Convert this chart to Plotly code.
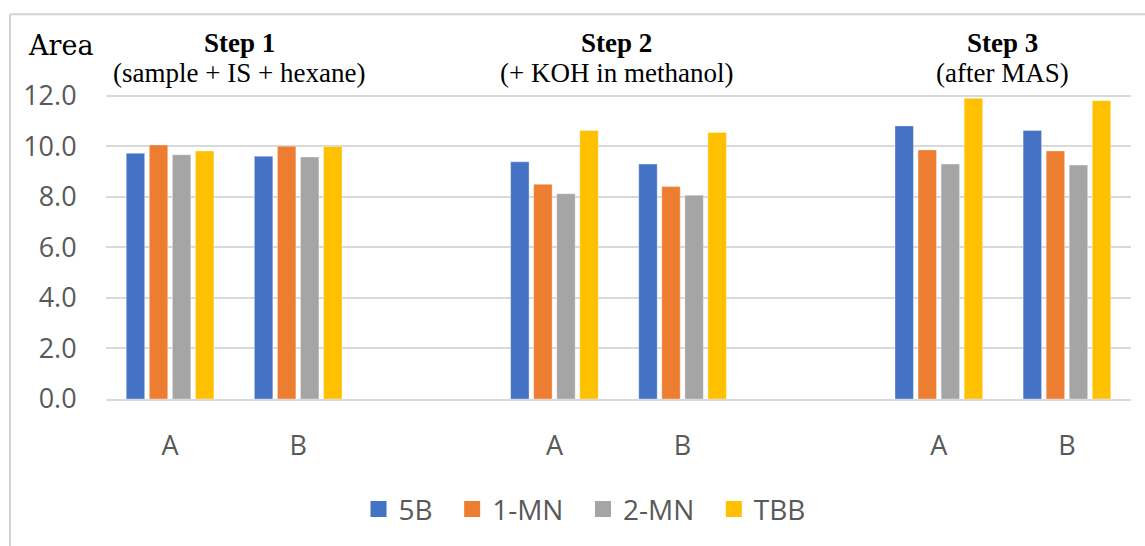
import plotly.graph_objects as go

# ---- data ----
steps = ["Step 1", "Step 2", "Step 3"]
step_notes = ["(sample + IS + hexane)", "(+ KOH in methanol)", "(after MAS)"]
samples = ["A", "B"]
series = ["5B", "1-MN", "2-MN", "TBB"]
colors = ["#4472C4", "#ED7D31", "#A5A5A5", "#FFC000"]
# values ordered: Step1 A, Step1 B, Step2 A, Step2 B, Step3 A, Step3 B
v_5B = [9.72, 9.60, 9.38, 9.29, 10.80, 10.62]
v_1MN = [10.05, 10.00, 8.49, 8.40, 9.85, 9.81]
v_2MN = [9.66, 9.57, 8.12, 8.06, 9.29, 9.25]
v_TBB = [9.81, 9.99, 10.62, 10.54, 11.89, 11.80]
values = [v_5B, v_1MN, v_2MN, v_TBB]
y_ticks = [0, 2, 4, 6, 8, 10, 12, 14]

W, H = 1145, 546
L, R, T, B = 106, 14, 45, 145
pw, ph = W - L - R, H - T - B


def px(x):
    return (x - L) / pw


def py(y):
    return (H - B - y) / ph


# slot positions: each step takes 3 slots (A, B, gap)
xpos = [si * 3 + k for si in range(len(steps)) for k in range(len(samples))]
xlabels = [s for _ in steps for s in samples]

fig = go.Figure()
for name, vals, col in zip(series, values, colors):
    fig.add_trace(go.Bar(
        x=xpos, y=vals, name=name, marker_color=col,
        marker_line=dict(color="rgba(255,255,255,0.35)", width=1),
        showlegend=False,
    ))
for name, col in zip(series, colors):
    fig.add_trace(go.Scatter(
        x=[None], y=[None], mode="markers", name=name + "\u00a0\u00a0",
        marker=dict(symbol="square", size=19, color=col),
    ))

tick_font = dict(family="Open Sans", size=27, color="#595959")
leg_font = dict(family="Open Sans", size=28, color="#595959")
fig.update_layout(
    width=W, height=H,
    margin=dict(l=L, r=R, t=T, b=B),
    paper_bgcolor="white", plot_bgcolor="white",
    barmode="group", bargap=0.28, bargroupgap=0.2,
    legend=dict(orientation="h", x=px(592), xanchor="center",
                y=py(512), yanchor="middle",
                font=leg_font, itemsizing="trace"),
    xaxis=dict(range=[-0.5, 7.5], tickvals=xpos, ticktext=xlabels,
               tickfont=tick_font, showgrid=False, zeroline=False,
               showline=True, linecolor="#d9d9d9", linewidth=1.5,
               ticks="outside", ticklen=22, tickcolor="rgba(0,0,0,0)"),
    yaxis=dict(range=[0, 14], tickvals=y_ticks,
               ticktext=["%.1f" % v if v < 14 else "" for v in y_ticks],
               tickfont=tick_font, showgrid=True, gridcolor="#d9d9d9",
               gridwidth=1.5, zeroline=False,
               ticks="outside", ticklen=23, tickcolor="rgba(0,0,0,0)"),
)

# white boxes behind titles (cover gridlines, under bars)
def box(x0, x1, y0, y1):
    fig.add_shape(type="rect", xref="paper", yref="paper",
                  x0=px(x0), x1=px(x1), y0=py(y1), y1=py(y0),
                  fillcolor="white", line_width=0, layer="between")

box(100, 383, 30, 70)
box(100, 373, 70, 99)
box(472, 758, 30, 70)
box(495, 735, 70, 99)
box(897, 1097, 30, 70)
box(897, 1082, 70, 98)

# outer frame
fig.add_shape(type="line", xref="paper", yref="paper", x0=px(10), x1=px(10),
              y0=py(14), y1=py(560), line=dict(color="#d4d4d4", width=2))
fig.add_shape(type="line", xref="paper", yref="paper", x0=px(10), x1=px(1160),
              y0=py(14), y1=py(14), line=dict(color="#d4d4d4", width=2))

serif = "Liberation Serif"
fig.add_annotation(text="Area", xref="paper", yref="paper", x=px(60), y=py(45),
                   xanchor="center", yanchor="middle", showarrow=False,
                   font=dict(family="DejaVu Serif", size=27, color="black"))
centers = [239, 616, 1002]
for st, note, cx in zip(steps, step_notes, centers):
    fig.add_annotation(text="<b>%s</b>" % st, xref="paper", yref="paper",
                       x=px(cx), y=py(43), xanchor="center", yanchor="middle",
                       showarrow=False,
                       font=dict(family=serif, size=27, color="black"))
    fig.add_annotation(text=note, xref="paper", yref="paper",
                       x=px(cx), y=py(73), xanchor="center", yanchor="middle",
                       showarrow=False,
                       font=dict(family=serif, size=27, color="black"))

fig.write_html("out.html")
